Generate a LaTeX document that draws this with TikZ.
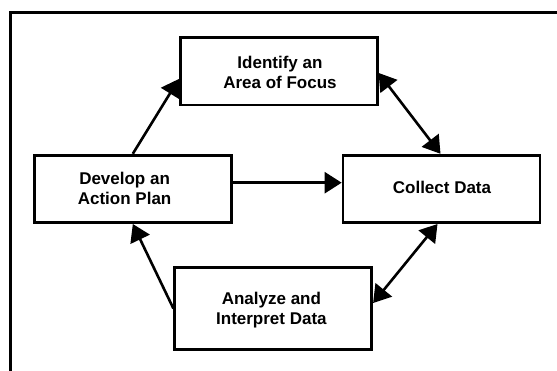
\documentclass[tikz,border=0pt]{standalone}
\usepackage{fontspec}
\setmainfont{Liberation Sans}
\usetikzlibrary{arrows.meta}
\begin{document}
\begin{tikzpicture}[x=1pt,y=-1pt,
  box/.style={draw=black,line width=2.7pt,minimum width=197pt,minimum height=67.5pt,inner sep=0pt,fill=white},
  txt/.style={align=center,font=\bfseries\fontsize{17}{20}\selectfont,inner sep=0pt},
  tip/.style={Triangle[length=17pt,width=21pt]},
  arr/.style={line width=2.6pt,-{Triangle[length=17pt,width=21pt]}},
  darr/.style={line width=2.6pt,{Triangle[length=17pt,width=21pt]}-{Triangle[length=17pt,width=21pt]}}]
\useasboundingbox (0,0) rectangle (557,370);
% outer frame (cropped)
\draw[line width=2.6pt] (562,12.7) -- (10.7,12.7) -- (10.7,375);
% boxes
\node[box] (iden) at (278.75,71.35) {};
\node[box] (dev) at (132.8,188.9) {};
\node[box] (coll) at (441.5,188.9) {};
\node[box,minimum height=82pt] (ana) at (273.25,308.5) {};
% texts
\node[txt] (idtxt) at (280,72.3) {Identify an\\Area of Focus};
\node[txt] (devtxt) at (124.6,188.3) {Develop an\\Action Plan};
\node[txt] (colltxt) at (442,187) {Collect Data};
\node[txt] (anatxt) at (271.4,309.7) {Analyze and\\Interpret Data};
% connectors
\draw[arr] (dev.north) -- ([yshift=-7.6pt]iden.west);
\draw[darr] ([yshift=-1.6pt]iden.east) -- ([xshift=-1pt]coll.north);
\draw[arr] ([yshift=6.2pt]dev.east) -- ([yshift=6.2pt]coll.west);
\draw[darr] ([xshift=-4pt]coll.south) -- ([yshift=5.5pt]ana.east);
\draw[arr] (ana.west) -- (dev.south);
\end{tikzpicture}
\end{document}
